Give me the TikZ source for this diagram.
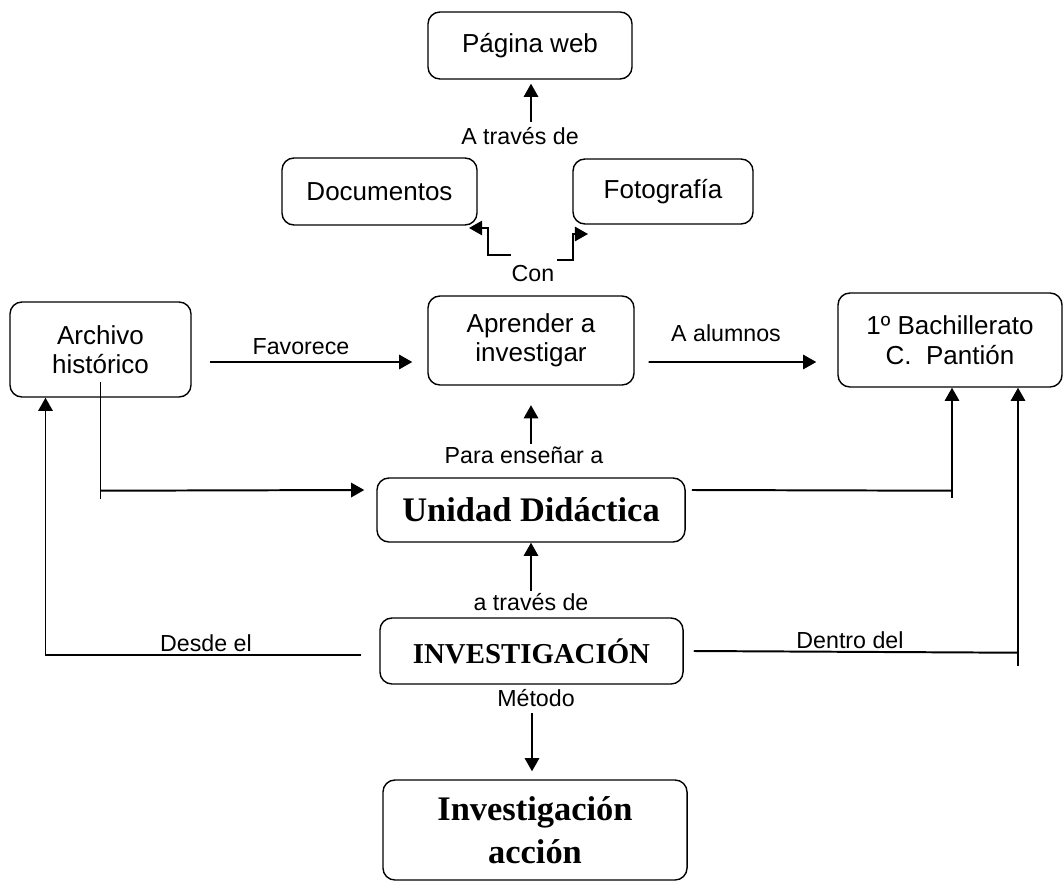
\documentclass[tikz,border=0pt]{standalone}
\usepackage{fontspec}
\setmainfont{Liberation Serif}
\setsansfont{Liberation Sans}
\usetikzlibrary{arrows.meta}
\begin{document}
\begin{tikzpicture}[x=0.025cm, y=-0.025cm, line width=1.4pt,
	main/.style = {draw, line width=1pt, rounded corners=0.3cm, align=center, font=\sffamily\fontsize{18.5}{21}\selectfont},
	big/.style = {main, font=\rmfamily\bfseries\fontsize{24.5}{31}\selectfont},
	lbl/.style = {font=\sffamily\fontsize{16.5}{19}\selectfont, inner sep=1pt},
	arr/.style = {-{Triangle[length=0.33cm,width=0.36cm]}}]
	\useasboundingbox (0,0) rectangle (1064,886);
	\node[main, minimum width=5.1cm, minimum height=1.675cm] (web) at (530,45.5) {Página web};
	\node[main, minimum width=4.875cm, minimum height=1.675cm] (doc) at (379.5,191.5) {Documentos};
	\node[main, minimum width=4.5cm, minimum height=1.625cm] (foto) at (663,191.5) {Fotografía};
	\node[main, minimum width=4.525cm, minimum height=2.375cm] (arch) at (100.5,349.5) {Archivo\\histórico};
	\node[main, minimum width=5.15cm, minimum height=2.225cm] (apr) at (531,340.5) {Aprender a\\investigar};
	\node[main, minimum width=5.6cm, minimum height=2.35cm] (bach) at (950,340) {1º Bachillerato\\C.~~Pantión};
	\node[big, minimum width=7.7cm, minimum height=1.6cm] (ud) at (531,510) {Unidad Didáctica};
	\node[big, font=\rmfamily\bfseries\fontsize{20.5}{24}\selectfont, minimum width=7.575cm, minimum height=1.65cm] (inv) at (531.5,651) {INVESTIGACIÓN};
	\node[big, minimum width=7.6cm, minimum height=2.5cm] (ia) at (535,830) {Investigación\\acción};
	\node[lbl] (atr1) at (520,136) {A través de};
	\node[lbl] (con) at (533,274) {Con};
	\node[lbl] (fav) at (301,347) {Favorece};
	\node[lbl] (alum) at (726,333) {A alumnos};
	\node[lbl] (para) at (524,455) {Para enseñar a};
	\node[lbl] (atr2) at (531,602) {a través de};
	\node[lbl] (desde) at (206,643) {Desde el};
	\node[lbl] (dentro) at (850,640) {Dentro del};
	\node[lbl] (met) at (536,698) {Método};
	\coordinate (cd) at (511,255);
	\coordinate (cf) at (557,260);
	\draw[arr] ([shift={(11,-3)}]atr1.north) -- ([shift={(1,4)}]web.south);
	\draw[arr] (cd) -| (488,228) -- (469,228);
	\draw[arr] (cf) -| (573,234) -- (588,234);
	\draw[arr] ([shift={(18,12.5)}]arch.east) -- ([shift={(-15,21.5)}]apr.west);
	\draw[arr] ([shift={(14,21.5)}]apr.east) -- ([shift={(-21,22)}]bach.west);
	\draw[arr] ([shift={(7,0)}]para.north) -- ++(0,-39);
	\draw[arr] (atr2.north) -- (atr2.north |- ud.south);
	\draw[arr] ([shift={(-4,4)}]met.south) -- ([shift={(-4,-8)}]met.south |- ia.north);
	\draw ([shift={(0,-16)}]arch.south) -- ++(0,117);
	\draw[arr] ([shift={(0,93)}]arch.south) -- ([shift={(-12,-20)}]ud.west);
	\draw ([shift={(6,-20)}]ud.east) -- ([shift={(2,103)}]bach.south);
	\draw[arr] ([shift={(2,110)}]bach.south) -- ([shift={(2,0)}]bach.south);
	\draw[arr] ([shift={(-18,4)}]inv.west) -| ([shift={(-55,0)}]arch.south);
	\draw ([shift={(10,0)}]inv.east) -- ([shift={(68,265)}]bach.south);
	\draw[arr] ([shift={(68,278)}]bach.south) -- ([shift={(68,0)}]bach.south);
\end{tikzpicture}
\end{document}
